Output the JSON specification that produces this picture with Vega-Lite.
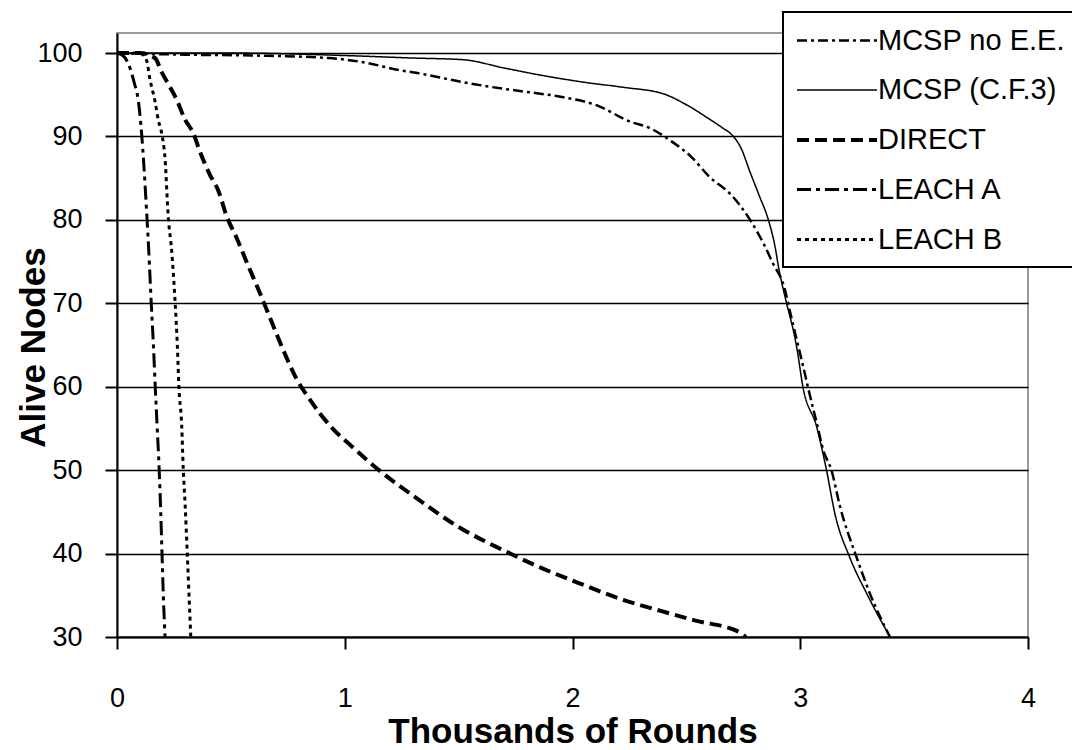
{
  "$schema": "https://vega.github.io/schema/vega-lite/v6.json",
  "width": 911,
  "height": 604,
  "autosize": {"type": "none"},
  "padding": {"left": 117, "top": 33, "right": 44, "bottom": 113},
  "background": "white",
  "config": {
    "view": {"stroke": "#9a9a9a", "strokeWidth": 2},
    "font": "Liberation Sans"
  },
  "data": {
    "values": [
      {"series": "MCSP no E.E.", "x": 0, "y": 100},
      {"series": "MCSP no E.E.", "x": 0.3, "y": 99.8},
      {"series": "MCSP no E.E.", "x": 0.6, "y": 99.7},
      {"series": "MCSP no E.E.", "x": 0.93, "y": 99.4},
      {"series": "MCSP no E.E.", "x": 1.10, "y": 98.8},
      {"series": "MCSP no E.E.", "x": 1.23, "y": 98.0},
      {"series": "MCSP no E.E.", "x": 1.32, "y": 97.6},
      {"series": "MCSP no E.E.", "x": 1.52, "y": 96.5},
      {"series": "MCSP no E.E.", "x": 1.70, "y": 95.7},
      {"series": "MCSP no E.E.", "x": 1.81, "y": 95.3},
      {"series": "MCSP no E.E.", "x": 1.96, "y": 94.7},
      {"series": "MCSP no E.E.", "x": 2.11, "y": 93.7},
      {"series": "MCSP no E.E.", "x": 2.25, "y": 91.8},
      {"series": "MCSP no E.E.", "x": 2.34, "y": 91.0},
      {"series": "MCSP no E.E.", "x": 2.43, "y": 89.5},
      {"series": "MCSP no E.E.", "x": 2.52, "y": 87.6},
      {"series": "MCSP no E.E.", "x": 2.60, "y": 85.2},
      {"series": "MCSP no E.E.", "x": 2.70, "y": 82.9},
      {"series": "MCSP no E.E.", "x": 2.78, "y": 80.0},
      {"series": "MCSP no E.E.", "x": 2.84, "y": 77.1},
      {"series": "MCSP no E.E.", "x": 2.88, "y": 74.8},
      {"series": "MCSP no E.E.", "x": 2.93, "y": 71.9},
      {"series": "MCSP no E.E.", "x": 2.955, "y": 69.0},
      {"series": "MCSP no E.E.", "x": 2.984, "y": 65.7},
      {"series": "MCSP no E.E.", "x": 3.013, "y": 62.4},
      {"series": "MCSP no E.E.", "x": 3.042, "y": 59.0},
      {"series": "MCSP no E.E.", "x": 3.072, "y": 55.7},
      {"series": "MCSP no E.E.", "x": 3.101, "y": 52.4},
      {"series": "MCSP no E.E.", "x": 3.138, "y": 49.9},
      {"series": "MCSP no E.E.", "x": 3.174, "y": 45.7},
      {"series": "MCSP no E.E.", "x": 3.248, "y": 39.5},
      {"series": "MCSP no E.E.", "x": 3.306, "y": 35.2},
      {"series": "MCSP no E.E.", "x": 3.394, "y": 30},

      {"series": "MCSP (C.F.3)", "x": 0, "y": 100},
      {"series": "MCSP (C.F.3)", "x": 0.5, "y": 100},
      {"series": "MCSP (C.F.3)", "x": 1.0, "y": 99.7},
      {"series": "MCSP (C.F.3)", "x": 1.3, "y": 99.4},
      {"series": "MCSP (C.F.3)", "x": 1.52, "y": 99.2},
      {"series": "MCSP (C.F.3)", "x": 1.70, "y": 98.2},
      {"series": "MCSP (C.F.3)", "x": 1.87, "y": 97.3},
      {"series": "MCSP (C.F.3)", "x": 2.05, "y": 96.5},
      {"series": "MCSP (C.F.3)", "x": 2.22, "y": 95.9},
      {"series": "MCSP (C.F.3)", "x": 2.40, "y": 95.1},
      {"series": "MCSP (C.F.3)", "x": 2.50, "y": 93.8},
      {"series": "MCSP (C.F.3)", "x": 2.60, "y": 92.1},
      {"series": "MCSP (C.F.3)", "x": 2.66, "y": 91.0},
      {"series": "MCSP (C.F.3)", "x": 2.70, "y": 90.2},
      {"series": "MCSP (C.F.3)", "x": 2.74, "y": 88.6},
      {"series": "MCSP (C.F.3)", "x": 2.78, "y": 85.7},
      {"series": "MCSP (C.F.3)", "x": 2.82, "y": 82.9},
      {"series": "MCSP (C.F.3)", "x": 2.86, "y": 80.0},
      {"series": "MCSP (C.F.3)", "x": 2.89, "y": 76.7},
      {"series": "MCSP (C.F.3)", "x": 2.905, "y": 74.3},
      {"series": "MCSP (C.F.3)", "x": 2.94, "y": 70.0},
      {"series": "MCSP (C.F.3)", "x": 2.97, "y": 66.7},
      {"series": "MCSP (C.F.3)", "x": 2.984, "y": 64.8},
      {"series": "MCSP (C.F.3)", "x": 3.013, "y": 59.8},
      {"series": "MCSP (C.F.3)", "x": 3.072, "y": 55.2},
      {"series": "MCSP (C.F.3)", "x": 3.116, "y": 49.9},
      {"series": "MCSP (C.F.3)", "x": 3.152, "y": 44.8},
      {"series": "MCSP (C.F.3)", "x": 3.218, "y": 39.5},
      {"series": "MCSP (C.F.3)", "x": 3.292, "y": 35.2},
      {"series": "MCSP (C.F.3)", "x": 3.394, "y": 30},

      {"series": "DIRECT", "x": 0, "y": 100},
      {"series": "DIRECT", "x": 0.1, "y": 100},
      {"series": "DIRECT", "x": 0.167, "y": 99.4},
      {"series": "DIRECT", "x": 0.196, "y": 97.7},
      {"series": "DIRECT", "x": 0.225, "y": 96.3},
      {"series": "DIRECT", "x": 0.262, "y": 94.4},
      {"series": "DIRECT", "x": 0.299, "y": 92.0},
      {"series": "DIRECT", "x": 0.335, "y": 90.4},
      {"series": "DIRECT", "x": 0.364, "y": 88.2},
      {"series": "DIRECT", "x": 0.408, "y": 85.4},
      {"series": "DIRECT", "x": 0.445, "y": 83.5},
      {"series": "DIRECT", "x": 0.482, "y": 80.4},
      {"series": "DIRECT", "x": 0.526, "y": 77.8},
      {"series": "DIRECT", "x": 0.570, "y": 74.9},
      {"series": "DIRECT", "x": 0.614, "y": 72.1},
      {"series": "DIRECT", "x": 0.643, "y": 70.2},
      {"series": "DIRECT", "x": 0.686, "y": 67.3},
      {"series": "DIRECT", "x": 0.730, "y": 64.4},
      {"series": "DIRECT", "x": 0.789, "y": 60.9},
      {"series": "DIRECT", "x": 0.833, "y": 59.0},
      {"series": "DIRECT", "x": 0.891, "y": 56.8},
      {"series": "DIRECT", "x": 0.950, "y": 54.9},
      {"series": "DIRECT", "x": 1.029, "y": 52.9},
      {"series": "DIRECT", "x": 1.159, "y": 49.8},
      {"series": "DIRECT", "x": 1.333, "y": 46.3},
      {"series": "DIRECT", "x": 1.493, "y": 43.3},
      {"series": "DIRECT", "x": 1.696, "y": 40.4},
      {"series": "DIRECT", "x": 1.870, "y": 38.2},
      {"series": "DIRECT", "x": 2.043, "y": 36.3},
      {"series": "DIRECT", "x": 2.217, "y": 34.5},
      {"series": "DIRECT", "x": 2.391, "y": 33.1},
      {"series": "DIRECT", "x": 2.536, "y": 32.0},
      {"series": "DIRECT", "x": 2.739, "y": 30.5},
      {"series": "DIRECT", "x": 2.76, "y": 30},

      {"series": "LEACH A", "x": 0, "y": 100},
      {"series": "LEACH A", "x": 0.03, "y": 99.6},
      {"series": "LEACH A", "x": 0.057, "y": 98.2},
      {"series": "LEACH A", "x": 0.075, "y": 96.5},
      {"series": "LEACH A", "x": 0.094, "y": 94.2},
      {"series": "LEACH A", "x": 0.108, "y": 90.4},
      {"series": "LEACH A", "x": 0.118, "y": 86.5},
      {"series": "LEACH A", "x": 0.130, "y": 81.0},
      {"series": "LEACH A", "x": 0.140, "y": 76.0},
      {"series": "LEACH A", "x": 0.150, "y": 70.2},
      {"series": "LEACH A", "x": 0.160, "y": 64.9},
      {"series": "LEACH A", "x": 0.168, "y": 59.9},
      {"series": "LEACH A", "x": 0.176, "y": 55.4},
      {"series": "LEACH A", "x": 0.185, "y": 50.2},
      {"series": "LEACH A", "x": 0.192, "y": 45.0},
      {"series": "LEACH A", "x": 0.198, "y": 39.7},
      {"series": "LEACH A", "x": 0.204, "y": 34.5},
      {"series": "LEACH A", "x": 0.211, "y": 30},

      {"series": "LEACH B", "x": 0, "y": 100},
      {"series": "LEACH B", "x": 0.10, "y": 100},
      {"series": "LEACH B", "x": 0.130, "y": 99.1},
      {"series": "LEACH B", "x": 0.145, "y": 96.8},
      {"series": "LEACH B", "x": 0.167, "y": 94.2},
      {"series": "LEACH B", "x": 0.181, "y": 92.0},
      {"series": "LEACH B", "x": 0.196, "y": 90.4},
      {"series": "LEACH B", "x": 0.211, "y": 87.3},
      {"series": "LEACH B", "x": 0.225, "y": 80.4},
      {"series": "LEACH B", "x": 0.240, "y": 76.3},
      {"series": "LEACH B", "x": 0.255, "y": 70.2},
      {"series": "LEACH B", "x": 0.265, "y": 64.9},
      {"series": "LEACH B", "x": 0.272, "y": 59.9},
      {"series": "LEACH B", "x": 0.284, "y": 55.4},
      {"series": "LEACH B", "x": 0.291, "y": 50.1},
      {"series": "LEACH B", "x": 0.299, "y": 45.9},
      {"series": "LEACH B", "x": 0.309, "y": 39.7},
      {"series": "LEACH B", "x": 0.317, "y": 34.5},
      {"series": "LEACH B", "x": 0.324, "y": 30}
    ]
  },
  "mark": {"type": "line", "color": "black", "interpolate": "monotone"},
  "encoding": {
    "x": {
      "field": "x", "type": "quantitative",
      "scale": {"domain": [0, 4], "nice": false, "zero": false},
      "axis": {
        "values": [0, 1, 2, 3, 4], "grid": false, "title": "Thousands of Rounds",
        "domainColor": "black", "domainWidth": 2, "tickColor": "black", "tickWidth": 2, "tickSize": 12,
        "labelFontSize": 27, "labelColor": "black", "labelPadding": 36, "labelFlush": false,
        "titleFontSize": 35, "titleFontWeight": "bold", "titleColor": "black",
        "titleBaseline": "alphabetic", "titleY": 105
      }
    },
    "y": {
      "field": "y", "type": "quantitative",
      "scale": {"domain": [30, 102.4], "nice": false, "zero": false},
      "axis": {
        "values": [30, 40, 50, 60, 70, 80, 90, 100], "grid": true, "gridColor": "black", "gridWidth": 1.5,
        "title": "Alive Nodes",
        "domainColor": "black", "domainWidth": 2, "tickColor": "black", "tickWidth": 2, "tickSize": 12,
        "labelFontSize": 27, "labelColor": "black", "labelPadding": 23,
        "titleFontSize": 35, "titleFontWeight": "bold", "titleColor": "black",
        "titleBaseline": "alphabetic", "titleX": -73, "titleY": 314
      }
    },
    "strokeDash": {
      "field": "series", "type": "nominal",
      "scale": {
        "domain": ["MCSP no E.E.", "MCSP (C.F.3)", "DIRECT", "LEACH A", "LEACH B"],
        "range": [[10, 4, 3, 4], [1, 0], [12, 6], [14, 5, 4, 5], [4, 4]]
      },
      "legend": {
        "title": null, "orient": "none", "legendX": 666, "legendY": -21,
        "symbolType": "M-1,0H4.33", "symbolSize": 900, "symbolStrokeColor": "black",
        "symbolFillColor": "transparent",
        "labelFontSize": 29, "labelColor": "black", "labelOffset": 49, "labelLimit": 400,
        "rowPadding": 18, "padding": 12, "strokeColor": "black", "fillColor": "white",
        "encode": {"legend": {"update": {"strokeWidth": {"value": 2}}}}
      }
    },
    "strokeWidth": {
      "field": "series", "type": "nominal",
      "scale": {
        "type": "ordinal",
        "domain": ["MCSP no E.E.", "MCSP (C.F.3)", "DIRECT", "LEACH A", "LEACH B"],
        "range": [2.5, 1.5, 4, 3, 3]
      },
      "legend": {
        "title": null, "orient": "none", "legendX": 666, "legendY": -21,
        "symbolType": "M-1,0H4.33", "symbolSize": 900, "symbolStrokeColor": "black",
        "symbolFillColor": "transparent",
        "labelFontSize": 29, "labelColor": "black", "labelOffset": 49, "labelLimit": 400,
        "rowPadding": 18, "padding": 12, "strokeColor": "black", "fillColor": "white",
        "encode": {"legend": {"update": {"strokeWidth": {"value": 2}}}}
      }
    }
  }
}
